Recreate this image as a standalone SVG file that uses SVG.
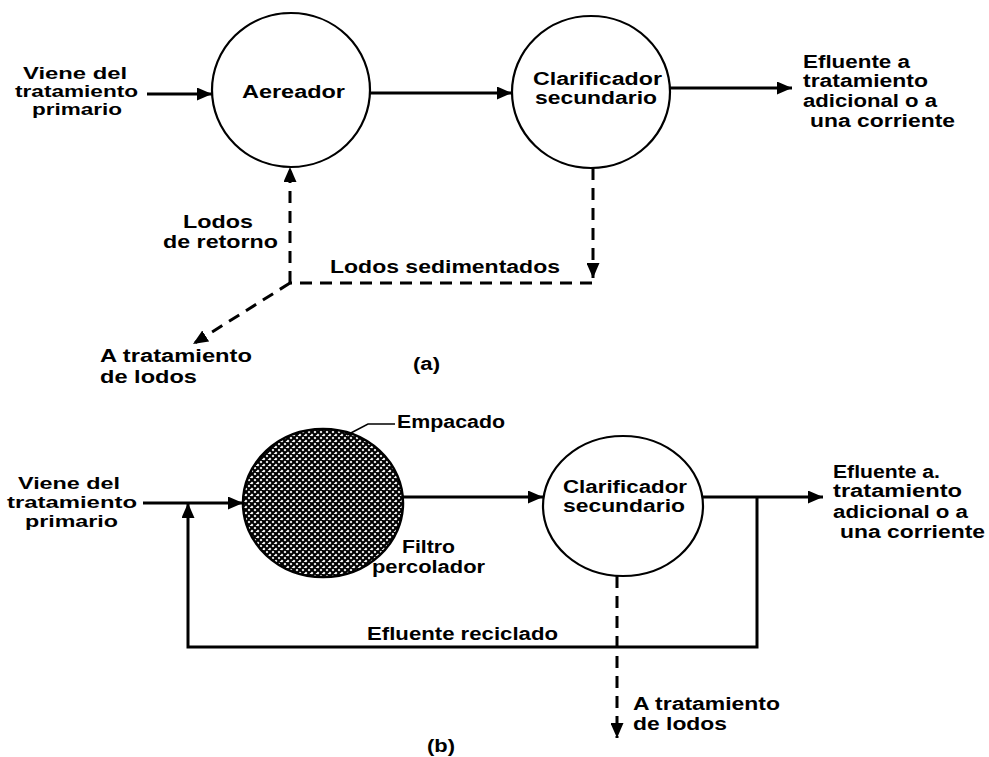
<svg xmlns="http://www.w3.org/2000/svg" width="989" height="757" viewBox="0 0 989 757">
<style>
text{font-family:"Liberation Sans",Arial,sans-serif;font-weight:bold;font-size:18px;fill:#000}
text.s{font-size:16px}
.node{fill:#fff;stroke:#000;stroke-width:2.2}
.line{fill:none;stroke:#000;stroke-width:3}
.dash{fill:none;stroke:#000;stroke-width:3;stroke-dasharray:12 8}
.thin{fill:none;stroke:#000;stroke-width:1.5}
</style>
<defs>
<marker id="ah" viewBox="0 0 15 13" refX="15" refY="6.5" markerWidth="15" markerHeight="13" markerUnits="userSpaceOnUse" orient="auto">
<path d="M0,0 L15,6.5 L0,13 Z" fill="#000"/>
</marker>
<pattern id="hatch" width="6" height="6" patternUnits="userSpaceOnUse">
<rect width="6" height="6" fill="#fff"/>
<path d="M0,0 L6,6 M0,6 L6,0 M-1,1 L1,-1 M5,7 L7,5 M-1,5 L1,7 M5,-1 L7,1" stroke="#000" stroke-width="2.2"/>
</pattern>
</defs>
<rect width="989" height="757" fill="#fff"/>

<!-- Part (a) -->
<g id="aereador">
<ellipse class="node" cx="291" cy="90" rx="79" ry="77"/>
<text x="242" y="98" textLength="103" lengthAdjust="spacingAndGlyphs">Aereador</text>
</g>
<g id="clarificador-a">
<ellipse class="node" cx="591" cy="92" rx="79" ry="76"/>
<text x="533" y="85" textLength="129" lengthAdjust="spacingAndGlyphs">Clarificador</text>
<text x="535" y="104" textLength="122" lengthAdjust="spacingAndGlyphs">secundario</text>
</g>
<g id="entrada-a">
<text class="s" x="23" y="79" textLength="104" lengthAdjust="spacingAndGlyphs">Viene del</text>
<text class="s" x="15" y="97" textLength="123" lengthAdjust="spacingAndGlyphs">tratamiento</text>
<text class="s" x="32" y="115" textLength="90" lengthAdjust="spacingAndGlyphs">primario</text>
</g>
<g id="salida-a">
<text x="803" y="68" textLength="107" lengthAdjust="spacingAndGlyphs">Efluente a</text>
<text x="803" y="87" textLength="125" lengthAdjust="spacingAndGlyphs">tratamiento</text>
<text x="803" y="107" textLength="134" lengthAdjust="spacingAndGlyphs">adicional o a</text>
<text x="810" y="127" textLength="145" lengthAdjust="spacingAndGlyphs">una corriente</text>
</g>
<g id="lodos-tratamiento-a">
<text x="100" y="362" textLength="152" lengthAdjust="spacingAndGlyphs">A tratamiento</text>
<text x="100" y="383" textLength="97" lengthAdjust="spacingAndGlyphs">de lodos</text>
</g>
<g id="labels-a">
<text x="183" y="228" textLength="70" lengthAdjust="spacingAndGlyphs">Lodos</text>
<text x="163" y="248" textLength="115" lengthAdjust="spacingAndGlyphs">de retorno</text>
<text x="330" y="273" textLength="230" lengthAdjust="spacingAndGlyphs">Lodos sedimentados</text>
<text x="413" y="370" textLength="27" lengthAdjust="spacingAndGlyphs">(a)</text>
</g>

<!-- Part (b) -->
<g id="filtro">
<ellipse cx="323" cy="503" rx="80" ry="74" fill="url(#hatch)" stroke="#000" stroke-width="2.5"/>
<path class="thin" d="M347,435 L368,424 L395,424"/>
<text x="397" y="428" textLength="108" lengthAdjust="spacingAndGlyphs">Empacado</text>
<text x="402" y="553" textLength="53" lengthAdjust="spacingAndGlyphs">Filtro</text>
<text x="372" y="573" textLength="113" lengthAdjust="spacingAndGlyphs">percolador</text>
</g>
<g id="clarificador-b">
<ellipse class="node" cx="623" cy="506" rx="80" ry="70"/>
<text x="563" y="493" textLength="124" lengthAdjust="spacingAndGlyphs">Clarificador</text>
<text x="563" y="512" textLength="122" lengthAdjust="spacingAndGlyphs">secundario</text>
</g>
<g id="entrada-b">
<text class="s" x="18" y="489" textLength="102" lengthAdjust="spacingAndGlyphs">Viene del</text>
<text class="s" x="7" y="508" textLength="130" lengthAdjust="spacingAndGlyphs">tratamiento</text>
<text class="s" x="25" y="527" textLength="93" lengthAdjust="spacingAndGlyphs">primario</text>
</g>
<g id="salida-b">
<text x="833" y="478" textLength="107" lengthAdjust="spacingAndGlyphs">Efluente a.</text>
<text x="833" y="497" textLength="129" lengthAdjust="spacingAndGlyphs">tratamiento</text>
<text x="833" y="518" textLength="135" lengthAdjust="spacingAndGlyphs">adicional o a</text>
<text x="840" y="538" textLength="145" lengthAdjust="spacingAndGlyphs">una corriente</text>
</g>
<g id="lodos-tratamiento-b">
<text x="633" y="710" textLength="147" lengthAdjust="spacingAndGlyphs">A tratamiento</text>
<text x="633" y="730" textLength="94" lengthAdjust="spacingAndGlyphs">de lodos</text>
</g>
<g id="labels-b">
<text x="367" y="640" textLength="191" lengthAdjust="spacingAndGlyphs">Efluente reciclado</text>
<text x="427" y="752" textLength="28" lengthAdjust="spacingAndGlyphs">(b)</text>
</g>

<g id="connectors">
<!-- (a) -->
<line class="line" x1="147" y1="94" x2="212" y2="94" marker-end="url(#ah)"/>
<line class="line" x1="370" y1="93" x2="512" y2="93" marker-end="url(#ah)"/>
<line class="line" x1="670" y1="88" x2="792" y2="88" marker-end="url(#ah)"/>
<line class="dash" x1="593" y1="168" x2="593" y2="278" marker-end="url(#ah)"/>
<path class="dash" d="M592,283 L290,283"/>
<line class="dash" x1="290" y1="283" x2="290" y2="167" marker-end="url(#ah)"/>
<line class="dash" x1="290" y1="283" x2="193" y2="344" marker-end="url(#ah)"/>
<!-- (b) -->
<line class="line" x1="143" y1="503" x2="243" y2="503" marker-end="url(#ah)"/>
<line class="line" x1="403" y1="497" x2="543" y2="497" marker-end="url(#ah)"/>
<line class="line" x1="703" y1="497" x2="823" y2="497" marker-end="url(#ah)"/>
<path class="line" d="M757,497 L757,647 L188,647 L188,503" marker-end="url(#ah)"/>
<line class="dash" x1="617" y1="576" x2="617" y2="738" marker-end="url(#ah)"/>
</g>
</svg>
